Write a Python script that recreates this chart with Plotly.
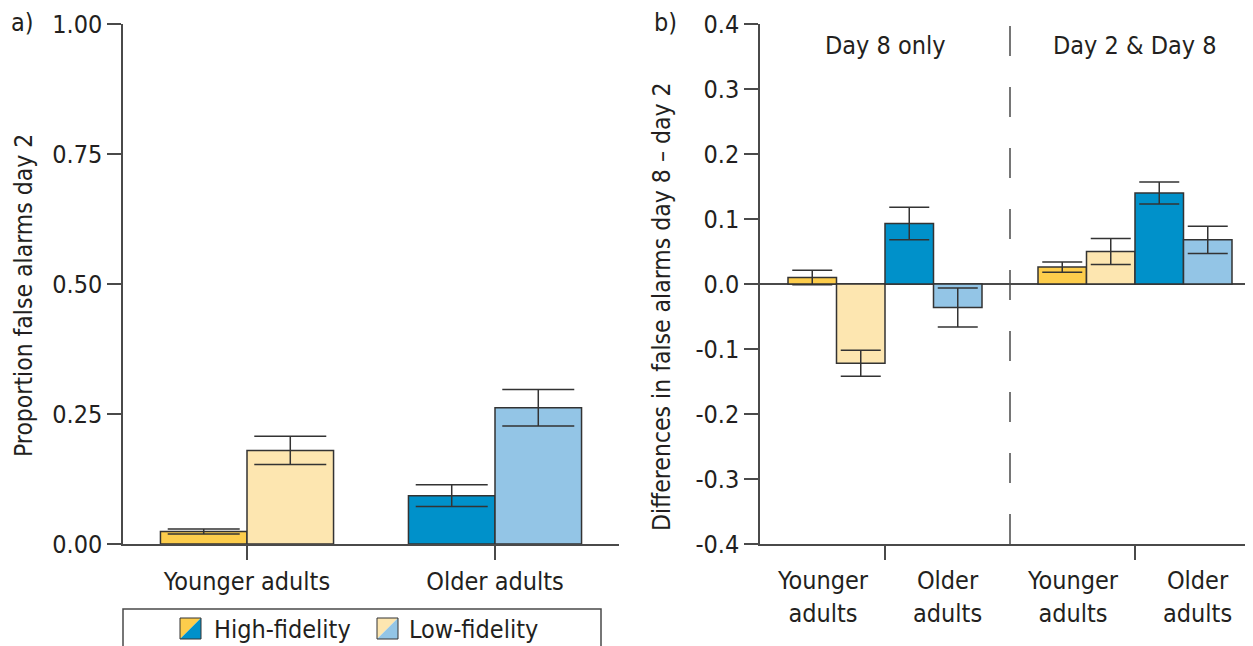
import plotly.graph_objects as go

# ---------------- data ----------------
groups_a = ["Younger adults", "Older adults"]
high_a = [0.024, 0.093]
high_a_err = [0.005, 0.021]
low_a = [0.180, 0.262]
low_a_err = [0.027, 0.035]

conditions_b = ["Day 8 only", "Day 2 & Day 8"]
young_high_b = [0.010, 0.026]
young_high_b_err = [0.011, 0.008]
young_low_b = [-0.122, 0.050]
young_low_b_err = [0.020, 0.020]
old_high_b = [0.093, 0.140]
old_high_b_err = [0.025, 0.017]
old_low_b = [-0.036, 0.068]
old_low_b_err = [0.030, 0.021]

ticks_a = [0, 0.25, 0.5, 0.75, 1.0]
ticklabels_a = ["0.00", "0.25", "0.50", "0.75", "1.00"]
ticks_b = [-0.4, -0.3, -0.2, -0.1, 0.0, 0.1, 0.2, 0.3, 0.4]
ticklabels_b = ["-0.4", "-0.3", "-0.2", "-0.1", "0.0", "0.1", "0.2", "0.3", "0.4"]
sub_labels_b = ["Younger<br>adults", "Older<br>adults"]

# ---------------- style ----------------
OFF = 8  # page body margin
W, H = 1253 - OFF, 646 - OFF
FONT = "Liberation Sans Narrow, Arial Narrow, DejaVu Sans Condensed, sans-serif"
FS = 25
TXT = "#231f20"
LINE = "#4a4a4a"
C_YH = "#fdcd4c"
C_YL = "#fde6b0"
C_OH = "#0091ca"
C_OL = "#93c5e6"
EDGE = "#333333"


def px(x):
    return (x - OFF) / W


def py(y):
    return (646 - y) / H


def font(size=FS):
    return dict(family=FONT, size=size, color=TXT)


ydom = [py(544), py(24)]

fig = go.Figure()

bw_a = 0.349
bw_b = 0.194


def add_bar(x, y, err, color, xa, ya, offset, width, cap):
    fig.add_trace(go.Bar(
        x=x, y=y, xaxis=xa, yaxis=ya,
        offset=offset, width=width,
        marker=dict(color=color, line=dict(color=EDGE, width=1.5)),
        error_y=dict(type="data", array=err, color=EDGE, thickness=1.5, width=cap),
        showlegend=False, hoverinfo="skip",
    ))


# panel a: colours per bar (yellow for younger, blue for older)
add_bar(groups_a, high_a, high_a_err, [C_YH, C_OH], "x", "y", -bw_a, bw_a, 36)
add_bar(groups_a, low_a, low_a_err, [C_YL, C_OL], "x", "y", 0, bw_a, 36)

# panel b
add_bar(conditions_b, young_high_b, young_high_b_err, C_YH, "x2", "y2", -2 * bw_b, bw_b, 20)
add_bar(conditions_b, young_low_b, young_low_b_err, C_YL, "x2", "y2", -bw_b, bw_b, 20)
add_bar(conditions_b, old_high_b, old_high_b_err, C_OH, "x2", "y2", 0, bw_b, 20)
add_bar(conditions_b, old_low_b, old_low_b_err, C_OL, "x2", "y2", bw_b, bw_b, 20)

axis_common = dict(showline=True, linecolor=LINE, linewidth=1.5, ticks="outside",
                   ticklen=14, tickwidth=1.5, tickcolor=LINE, showgrid=False,
                   zeroline=False, automargin=False, tickfont=font())

fig.update_layout(
    width=W, height=H,
    margin=dict(l=0, r=0, t=0, b=0),
    paper_bgcolor="white", plot_bgcolor="white",
    barmode="overlay",
    showlegend=False,
    xaxis=dict(domain=[px(123), px(619)], range=[-0.5, 1.5], anchor="y",
               type="category", **axis_common),
    yaxis=dict(domain=ydom, range=[0, 1], anchor="x", tickvals=ticks_a,
               ticktext=ticklabels_a, **axis_common),
    xaxis2=dict(domain=[px(760), 1.0], range=[-0.5, 1.472], anchor="y2",
                type="category", showticklabels=False, **axis_common),
    yaxis2=dict(domain=ydom, range=[-0.4, 0.4], anchor="x2", tickvals=ticks_b,
                ticktext=ticklabels_b, **axis_common),
)
fig.update_layout(yaxis2_zeroline=True, yaxis2_zerolinecolor=LINE,
                  yaxis2_zerolinewidth=1.5)


def ann(text, x, y, xref="paper", xanchor="center", size=FS, angle=0):
    return dict(text=text, x=x, y=y, xref=xref, yref="paper", xanchor=xanchor,
                yanchor="middle", textangle=angle, showarrow=False, font=font(size))


annotations = [
    ann("Proportion false alarms day 2", px(23), py(296), size=24.5, angle=-90),
    ann("Differences in false alarms day 8 \u2013 day 2", px(662), py(307), size=24.5,
        angle=-90),
    ann("a)", px(22), py(23)),
    ann("b)", px(665), py(23)),
]
for i, c in enumerate(conditions_b):
    annotations.append(ann(c, i, py(45), xref="x2"))
    for j, s in enumerate(sub_labels_b):
        annotations.append(ann(s, i - 0.25 + 0.5 * j, py(597), xref="x2"))

# legend text
annotations.append(ann("High-fidelity", px(212), py(629), xanchor="left"))
annotations.append(ann("Low-fidelity", px(407), py(629), xanchor="left"))
fig.update_layout(annotations=annotations)

shapes = []
# dashed separator in panel b
shapes.append(dict(type="line", xref="x2", yref="y2", x0=0.5, x1=0.5, y0=-0.4, y1=0.4,
                   line=dict(color=LINE, width=1.5, dash="30px,31px")))
# legend box
shapes.append(dict(type="rect", xref="paper", yref="paper", x0=px(123), x1=px(601),
                   y0=py(660), y1=py(609), line=dict(color=LINE, width=1.5),
                   fillcolor="rgba(0,0,0,0)"))


def swatch(x0, c1, c2):
    y0, y1 = 618, 639
    x1 = x0 + 21
    shapes.append(dict(type="path", xref="paper", yref="paper",
                       path=f"M {px(x0)} {py(y1)} L {px(x0)} {py(y0)} L {px(x1)} {py(y0)} Z",
                       fillcolor=c1, line=dict(width=0)))
    shapes.append(dict(type="path", xref="paper", yref="paper",
                       path=f"M {px(x0)} {py(y1)} L {px(x1)} {py(y0)} L {px(x1)} {py(y1)} Z",
                       fillcolor=c2, line=dict(width=0)))
    shapes.append(dict(type="rect", xref="paper", yref="paper", x0=px(x0), x1=px(x1),
                       y0=py(y1), y1=py(y0), line=dict(color=EDGE, width=1),
                       fillcolor="rgba(0,0,0,0)"))


swatch(180, C_YH, C_OH)
swatch(377, C_YL, C_OL)
fig.update_layout(shapes=shapes)

fig.write_html("out.html")
